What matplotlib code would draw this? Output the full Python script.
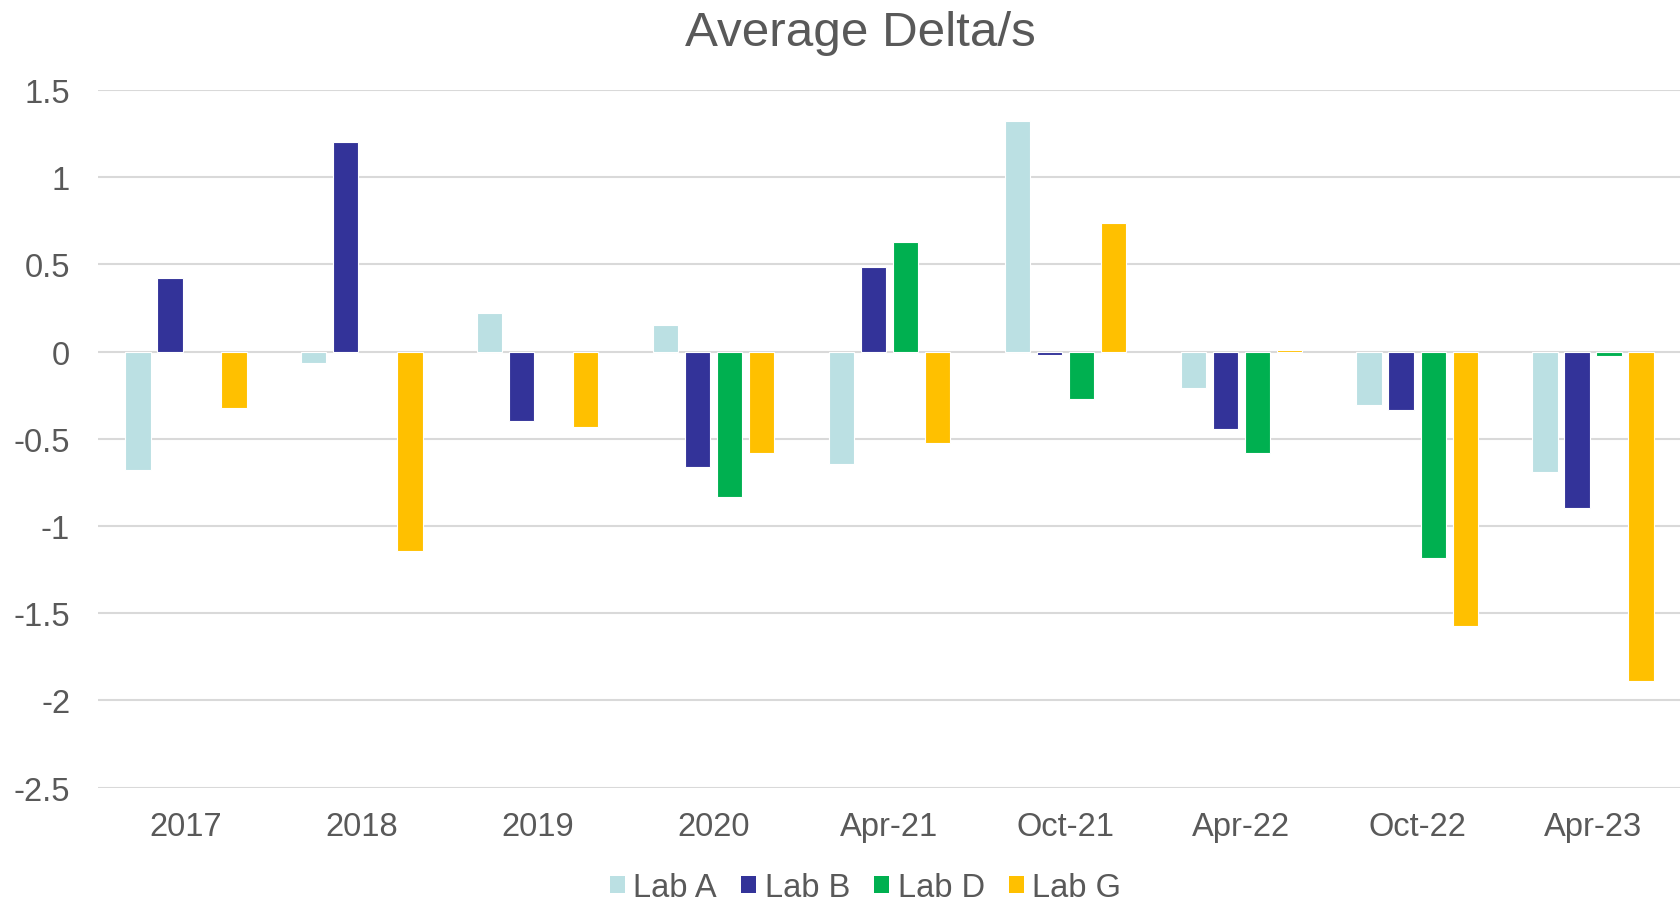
import numpy as np
import matplotlib
matplotlib.use("Agg")
import matplotlib.pyplot as plt
from matplotlib.patches import Patch

plt.rcParams['font.family'] = ['Liberation Sans', 'DejaVu Sans']

categories = ["2017", "2018", "2019", "2020", "Apr-21", "Oct-21", "Apr-22", "Oct-22", "Apr-23"]
lab_a = [-0.677, -0.067, 0.221, 0.154, -0.645, 1.321, -0.210, -0.304, -0.692]
lab_b = [0.423, 1.200, -0.400, -0.664, 0.486, -0.019, -0.443, -0.334, -0.894]
lab_d = [np.nan, np.nan, np.nan, -0.836, 0.627, -0.273, -0.579, -1.183, -0.023]
lab_g = [-0.321, -1.143, -0.430, -0.584, -0.522, 0.738, 0.010, -1.571, -1.890]
series_names = ["Lab A", "Lab B", "Lab D", "Lab G"]
colors = ["#BBE0E3", "#333399", "#00B050", "#FFC000"]
yticks = [1.5, 1, 0.5, 0, -0.5, -1, -1.5, -2, -2.5]
ytick_labels = ["1.5", "1", "0.5", "0", "-0.5", "-1", "-1.5", "-2", "-2.5"]

text_color = "#595959"
fig = plt.figure(figsize=(16.81, 9.03), dpi=100)
ax = fig.add_axes([0.0583, 0.1267, 0.9417, 0.7725])

x = np.arange(len(categories))
spacing = 0.182
width = 0.144
for i, (vals, c) in enumerate(zip([lab_a, lab_b, lab_d, lab_g], colors)):
    offs = (i - 1.5) * spacing
    ax.bar(x + offs, vals, width=width, color=c, edgecolor="white", linewidth=0.8, zorder=3)

ax.set_xlim(-0.5, len(categories) - 0.5)
ax.set_ylim(-2.5, 1.5)
ax.set_yticks(yticks)
ax.set_yticklabels(ytick_labels)
ax.set_xticks(x)
ax.set_xticklabels(categories)
ax.yaxis.grid(True, color="#D9D9D9", linewidth=1.5, zorder=0)
ax.set_axisbelow(True)
for s in ax.spines.values():
    s.set_visible(False)
ax.tick_params(axis='both', length=0, labelsize=23.5, colors=text_color)
ax.tick_params(axis='y', pad=20)
ax.tick_params(axis='x', pad=17)

fig.text(0.512, 0.963, "Average Delta/s", ha="center", va="center", fontsize=35.6, color=text_color)

handles = [Patch(facecolor=c, edgecolor='none') for c in colors]
leg = fig.legend(handles, series_names, loc="center", bbox_to_anchor=(0.515, 0.016),
                 ncol=4, frameon=False, fontsize=23.5, handlelength=0.46, handleheight=0.46,
                 handletextpad=0.25, columnspacing=0.75, labelcolor=text_color)

fig.savefig("out.png", dpi=100)
